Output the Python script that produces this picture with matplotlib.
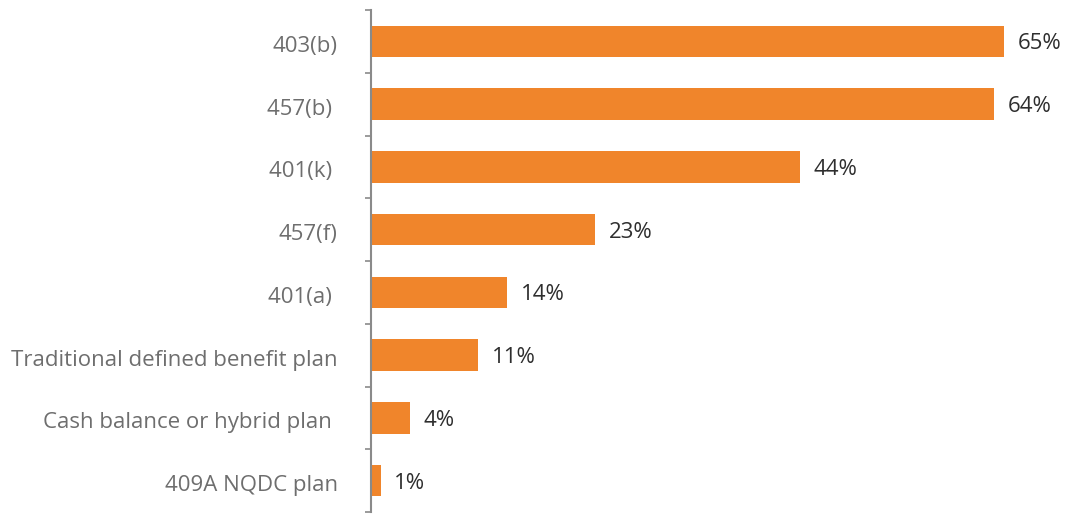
import numpy as np
import matplotlib.pyplot as plt

plt.rcParams['font.family'] = ['Open Sans', 'DejaVu Sans']

# plan types, top to bottom
plans = [
    "403(b)",
    "457(b) ",
    "401(k) ",
    "457(f)",
    "401(a) ",
    "Traditional defined benefit plan",
    "Cash balance or hybrid plan ",
    "409A NQDC plan",
]
shares = [65, 64, 44, 23, 14, 11, 4, 1]

bar_color = "#f0852b"
label_color = "#6e6e6e"
value_color = "#2e2e2e"
axis_color = "#8a8a8a"

fig = plt.figure(figsize=(10.79, 5.17), dpi=100)
ax = fig.add_axes([371 / 1079, 1 - 512 / 517, 1 - 371 / 1079, (512 - 10) / 517])

y = np.arange(len(plans))
ax.barh(y, shares, height=0.5, color=bar_color, zorder=2)

for yi, v in zip(y, shares):
    ax.text(v + 1.4, yi + 0.04, f"{v}%", va="center", ha="left",
            fontsize=16, color=value_color)

ax.set_xlim(0, (1079 - 371) / 9.74)
ax.set_ylim(len(plans) - 0.5, -0.5)

ax.set_yticks(y + 0.04)
ax.set_yticklabels(plans, fontsize=16, color=label_color)
ax.set_yticks(np.arange(-0.5, len(plans)), minor=True)
ax.tick_params(axis="y", which="major", length=0, pad=24)
ax.tick_params(axis="y", which="minor", length=4, width=1.2, color=axis_color)
ax.set_xticks([])

for side in ["top", "right", "bottom"]:
    ax.spines[side].set_visible(False)
ax.spines["left"].set_color(axis_color)
ax.spines["left"].set_linewidth(1.5)

fig.savefig("out.png", dpi=100)
